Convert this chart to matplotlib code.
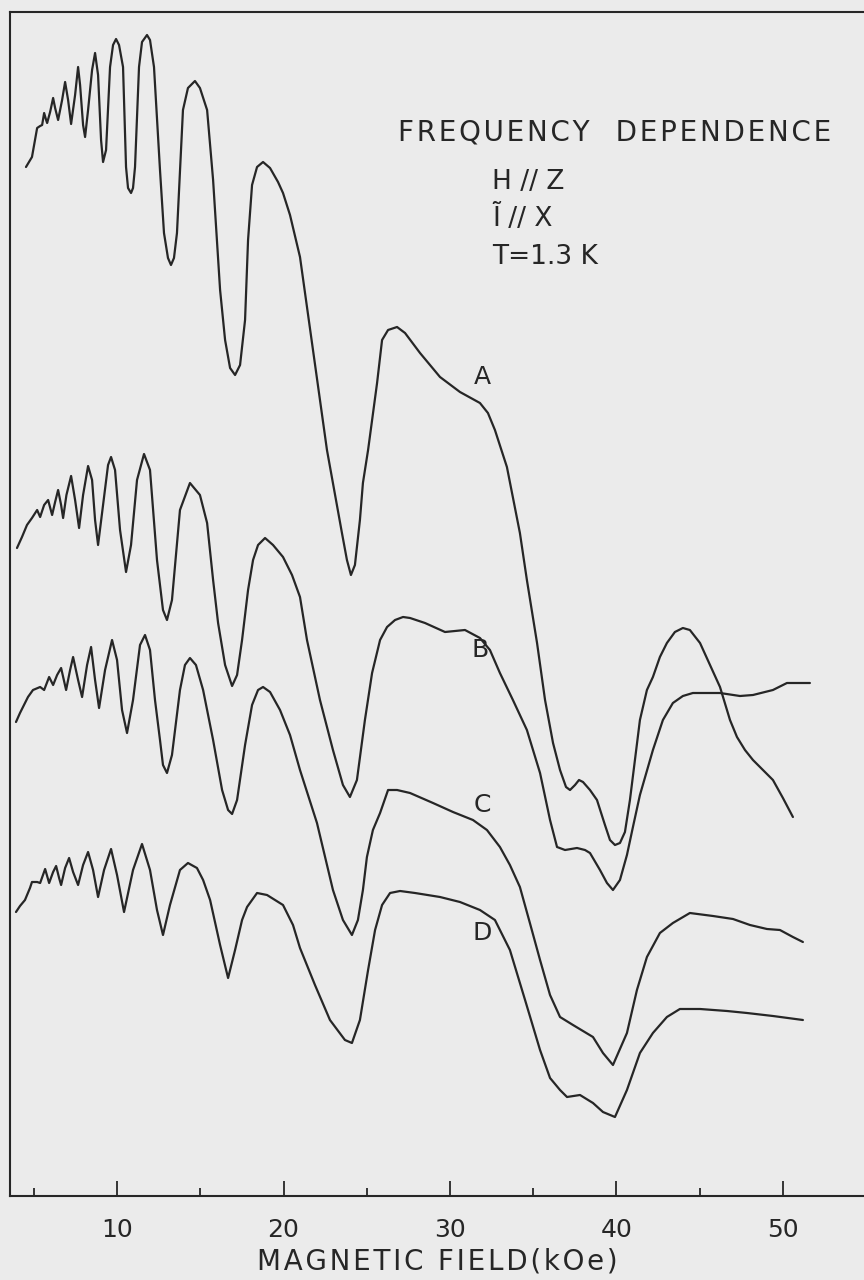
import matplotlib
matplotlib.use("Agg")
import matplotlib.pyplot as plt

# ---- data (field in kOe, signal in arbitrary units) ----
a_field = [4.53, 4.71, 4.89, 5.07, 5.20, 5.38, 5.50, 5.62, 5.74, 5.80, 5.98, 6.16, 6.28, 6.46,
           6.70, 6.88, 7.06, 7.24, 7.48, 7.66, 7.78, 7.96, 8.08, 8.26, 8.50, 8.68, 8.86, 9.04,
           9.16, 9.34, 9.58, 9.76, 9.94, 10.12, 10.36, 10.54, 10.66, 10.84, 10.96, 11.08, 11.32,
           11.50, 11.80, 11.98, 12.22, 12.58, 12.82, 13.06, 13.24, 13.42, 13.60, 13.96, 14.26,
           14.68, 14.98, 15.41, 15.77, 16.19, 16.49, 16.79, 17.09, 17.39, 17.69, 17.87, 18.11,
           18.41, 18.77, 19.19, 19.67, 19.97, 20.39, 20.99, 21.35, 21.77, 22.61, 23.51, 23.81,
           24.05, 24.29, 24.59, 24.77, 25.08, 25.32, 25.62, 25.92, 26.28, 26.82, 27.30, 28.20,
           29.40, 30.60, 31.80, 32.28, 32.70, 33.42, 34.20, 34.62, 35.23, 35.71, 36.19, 36.61,
           36.97, 37.21, 37.51, 37.75, 37.99, 38.41, 38.83, 39.31, 39.61, 39.91, 40.21, 40.51,
           40.81, 41.11, 41.41, 41.83, 42.19, 42.61, 43.03, 43.51, 43.99, 44.41, 45.02, 45.62,
           46.22, 46.82, 47.24, 47.72, 48.20, 48.80, 49.40, 50.00, 50.60]
a_signal = [1029, 1034, 1039, 1056, 1068, 1070, 1071, 1083, 1076, 1073, 1084, 1098, 1088, 1076,
            1096, 1114, 1096, 1072, 1101, 1129, 1111, 1071, 1059, 1086, 1126, 1143, 1121, 1056,
            1034, 1046, 1129, 1151, 1157, 1151, 1129, 1029, 1008, 1003, 1008, 1029, 1129,
            1154, 1161, 1156, 1129, 1026, 963, 938, 931, 938, 963, 1086, 1108,
            1115, 1108, 1086, 1016, 906, 856, 828, 821, 831, 876, 956, 1011,
            1029, 1034, 1028, 1014, 1003, 981, 939, 896, 846, 746, 663, 636,
            621, 631, 676, 713, 746, 776, 813, 856, 866, 869, 863, 843,
            819, 804, 793, 783, 766, 729, 663, 616, 553, 496, 453, 426,
            409, 406, 411, 416, 414, 406, 396, 371, 356, 351, 353, 364,
            396, 436, 476, 506, 519, 539, 553, 564, 568, 566, 553, 531,
            509, 476, 459, 446, 436, 426, 416, 398, 379]

b_field = [3.99, 4.29, 4.59, 4.89, 5.20, 5.38, 5.62, 5.86, 6.10, 6.28, 6.46, 6.64, 6.76, 6.96,
           7.24, 7.48, 7.72, 7.96, 8.26, 8.50, 8.68, 8.86, 9.16, 9.46, 9.64, 9.88, 10.18, 10.54,
           10.84, 11.20, 11.62, 11.98, 12.40, 12.76, 13.00, 13.30, 13.78, 14.38, 14.98, 15.41,
           15.77, 16.07, 16.49, 16.91, 17.21, 17.51, 17.87, 18.17, 18.47, 18.89, 19.37, 19.97,
           20.51, 20.99, 21.41, 22.19, 22.97, 23.57, 23.99, 24.41, 24.89, 25.32, 25.80, 26.22,
           26.70, 27.18, 27.60, 28.50, 29.70, 30.90, 31.80, 32.40, 33.00, 33.78, 34.62, 35.41,
           36.01, 36.43, 36.91, 37.63, 38.11, 38.41, 39.01, 39.43, 39.79, 40.21, 40.63, 40.99,
           41.41, 42.19, 42.79, 43.39, 43.99, 44.59, 46.22, 47.42, 48.20, 48.92, 49.40, 50.24,
           51.62]
b_signal = [648, 659, 671, 678, 686, 679, 691, 696, 681, 694, 706, 691, 678, 701,
            720, 696, 668, 701, 730, 716, 676, 651, 691, 731, 739, 726, 666, 624,
            651, 716, 742, 726, 636, 586, 576, 596, 686, 713, 701, 673,
            616, 573, 531, 510, 521, 556, 606, 636, 651, 658, 651, 639,
            621, 599, 556, 496, 446, 411, 399, 416, 476, 523, 556, 569,
            576, 579, 578, 573, 564, 566, 558, 546, 523, 496, 466, 423,
            376, 349, 346, 348, 346, 343, 326, 313, 306, 316, 341, 369,
            401, 446, 476, 493, 500, 503, 503, 500, 501, 504, 506, 513,
            513]

c_field = [3.93, 4.17, 4.65, 4.95, 5.38, 5.62, 5.92, 6.16, 6.40, 6.64, 6.94, 7.18, 7.36, 7.66,
           7.90, 8.20, 8.44, 8.68, 8.92, 9.28, 9.70, 10.00, 10.30, 10.60, 10.96, 11.38, 11.68,
           11.98, 12.28, 12.58, 12.76, 13.00, 13.30, 13.78, 14.08, 14.38, 14.74, 15.17, 15.77,
           16.31, 16.67, 16.91, 17.21, 17.69, 18.11, 18.47, 18.77, 19.19, 19.79, 20.39, 20.99,
           22.01, 22.97, 23.57, 24.11, 24.47, 24.77, 25.01, 25.37, 25.80, 26.28, 26.82, 27.60,
           28.98, 30.18, 31.38, 32.22, 33.00, 33.60, 34.20, 34.80, 35.41, 36.01, 36.61, 37.39,
           38.59, 39.19, 39.79, 40.63, 41.23, 41.83, 42.61, 43.39, 44.41, 45.80, 47.00, 48.02,
           49.04, 49.82, 50.60, 51.20]
c_signal = [474, 483, 499, 506, 509, 506, 519, 511, 521, 528, 506, 526, 539, 516,
            499, 531, 549, 516, 488, 526, 556, 536, 486, 463, 496, 551, 561,
            546, 496, 456, 431, 423, 441, 506, 531, 538, 531, 506, 456,
            406, 386, 382, 396, 451, 491, 506, 509, 504, 486, 461, 426,
            373, 306, 276, 261, 276, 306, 339, 366, 383, 406, 406, 403,
            393, 384, 376, 366, 349, 331, 309, 273, 236, 201, 179, 171,
            159, 143, 131, 163, 206, 239, 263, 273, 283, 280, 277, 271,
            267, 266, 259, 254]

d_field = [3.93, 4.17, 4.47, 4.77, 4.89, 5.20, 5.38, 5.68, 5.92, 6.16, 6.34, 6.52, 6.64, 6.88,
           7.12, 7.36, 7.66, 7.96, 8.26, 8.56, 8.86, 9.22, 9.64, 10.00, 10.42, 10.96, 11.50,
           11.98, 12.40, 12.76, 13.18, 13.78, 14.26, 14.80, 15.17, 15.59, 16.19, 16.67, 17.09,
           17.51, 17.81, 18.41, 19.01, 19.97, 20.57, 20.99, 21.89, 22.79, 23.69, 24.11, 24.59,
           25.08, 25.50, 25.92, 26.40, 27.00, 27.90, 29.40, 30.60, 31.80, 32.70, 33.60, 34.51,
           35.41, 36.01, 36.61, 37.03, 37.81, 38.59, 39.19, 39.91, 40.63, 41.41, 42.19, 43.03,
           43.81, 45.02, 46.64, 47.84, 49.40, 51.20]
d_signal = [284, 290, 296, 308, 314, 314, 313, 327, 313, 324, 330, 318, 311, 328,
            338, 324, 311, 331, 344, 326, 299, 326, 347, 321, 284, 326, 352,
            326, 286, 261, 291, 326, 333, 328, 316, 296, 251, 218, 246,
            276, 289, 303, 301, 291, 271, 248, 211, 176, 156, 153, 176,
            226, 266, 291, 303, 305, 303, 299, 294, 286, 276, 246, 196,
            146, 118, 106, 99, 101, 93, 84, 79, 106, 143, 163, 179,
            187, 187, 185, 183, 180, 176]

curves = [(a_field, a_signal), (b_field, b_signal), (c_field, c_signal), (d_field, d_signal)]
curve_names = ["A", "B", "C", "D"]
label_field = [31.92, 31.80, 31.92, 31.92]
label_signal = [819, 546, 391, 263]

info_lines = ["H // Z", "\u0128 // X", "T=1.3 K"]
info_signal = [1014, 978, 939]

x_major = [10, 20, 30, 40, 50]
x_minor = [5, 15, 25, 35, 45]

paper = "#ebebeb"
ink = "#262626"


# the lettering on the original is widely tracked, spread it with hair spaces
def spaced(s):
    return "\u200a".join(s)


fig = plt.figure(figsize=(8.64, 12.8), dpi=100, facecolor=paper)
ax = fig.add_axes([10 / 864, 84 / 1280, 854 / 864, 1184 / 1280])
ax.set_facecolor(paper)

for fld, sig in curves:
    ax.plot(fld, sig, color=ink, lw=1.6, solid_joinstyle="round", solid_capstyle="round")

for name, xf, ys in zip(curve_names, label_field, label_signal):
    ax.text(xf, ys, name, fontsize=18, color=ink, ha="center", va="center")

ax.text(26.85, 1063, spaced("FREQUENCY  DEPENDENCE"), fontsize=20, color=ink,
        ha="left", va="center")
for line, ys in zip(info_lines, info_signal):
    ax.text(32.55, ys, line, fontsize=19, color=ink, ha="left", va="center")

ax.set_xlim(3.57, 54.87)
ax.set_ylim(0, 1184)
ax.set_xticks(x_major)
ax.set_xticks(x_minor, minor=True)
ax.set_yticks([])
ax.tick_params(axis="x", which="major", direction="in", length=11, width=1.3,
               color=ink, labelsize=18, labelcolor=ink, pad=16)
ax.tick_params(axis="x", which="minor", direction="in", length=6, width=1.3, color=ink)
ax.set_xlabel(spaced("MAGNETIC FIELD(kOe)"), fontsize=20, color=ink, labelpad=4)

for side in ["left", "bottom", "top"]:
    ax.spines[side].set_linewidth(1.5)
    ax.spines[side].set_color(ink)
ax.spines["right"].set_visible(False)

fig.savefig("out.png", dpi=100, facecolor=paper)
